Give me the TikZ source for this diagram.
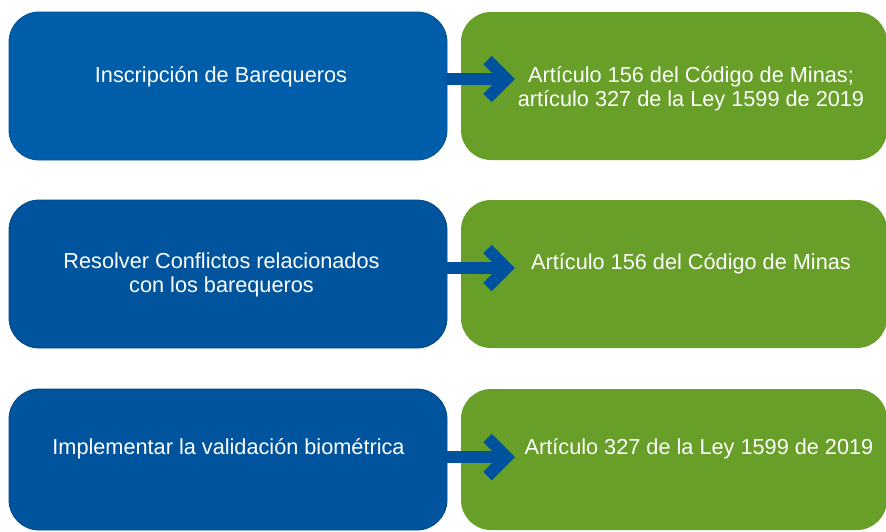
\documentclass[tikz,border=0pt]{standalone}
\usepackage{fontspec}
\setmainfont{Liberation Sans}
\definecolor{blueA}{HTML}{005DA9}
\definecolor{blueB}{HTML}{00539D}
\definecolor{greenA}{HTML}{679F28}
\definecolor{arrowblue}{HTML}{00529E}
\begin{document}
\begin{tikzpicture}[x=1pt,y=-1pt,
  box/.style={rounded corners=30pt, minimum width=#1, inner sep=0pt},
  bluebox/.style={box=438pt, fill=blueB, draw=blueB!85!black, line width=0.8pt},
  greenbox/.style={box=426pt, fill=greenA},
  lbl/.style={text=white, font=\fontsize{21.7}{24}\selectfont, align=center, inner sep=0pt},
  shaft/.style={draw=arrowblue, line width=12pt},
  chev/.style={draw=arrowblue, line width=12pt, miter limit=10, line join=miter}
]
\useasboundingbox (0,0) rectangle (886,531);
% boxes
\node[bluebox, fill=blueA, draw=blueA!85!black, minimum height=148pt] (b1) at (228,86) {};
\node[bluebox, minimum height=148pt] (b2) at (228,274) {};
\node[bluebox, minimum height=141pt] (b3) at (228,459.5) {};
\node[greenbox, minimum height=148pt] (g1) at (674,86) {};
\node[greenbox, minimum height=148pt] (g2) at (674,274) {};
\node[greenbox, minimum height=141pt] (g3) at (674,459.5) {};
% texts
\node[lbl] (t1) at (221,77) {Inscripción de Barequeros};
\node[lbl] (t2) at (221.5,275) {Resolver Conflictos relacionados\\con los barequeros};
\node[lbl] (t3) at (228.5,449) {Implementar la validación biométrica};
\node[lbl] (u1) at (691,89) {Artículo 156 del Código de Minas;\\artículo 327 de la Ley 1599 de 2019};
\node[lbl] (u2) at (691,264) {Artículo 156 del Código de Minas};
\node[lbl] (u3) at (699,449) {Artículo 327 de la Ley 1599 de 2019};
% arrows
\foreach \i/\yy in {1/79, 2/268, 3/457}{
  \coordinate (tip\i) at (506.5,\yy);
  \coordinate (s\i) at (446,\yy);
  \coordinate (ca\i) at (487.5,\yy-19);
  \coordinate (cb\i) at (487.5,\yy+19);
  \draw[shaft] (s\i) -- (tip\i);
  \draw[chev] (ca\i) -- (tip\i) -- (cb\i);
}
\end{tikzpicture}
\end{document}
